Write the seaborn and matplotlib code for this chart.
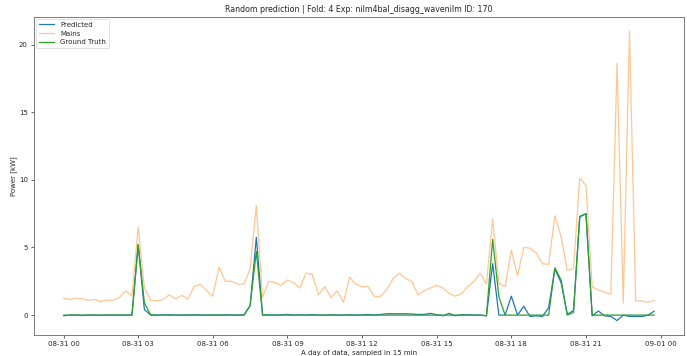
import numpy as np
import pandas as pd
import matplotlib
matplotlib.use("Agg")
import matplotlib.pyplot as plt
import matplotlib.dates as mdates
import seaborn as sns

title = "Random prediction | Fold: 4 Exp: nilm4bal_disagg_wavenilm ID: 170"
start = "2020-08-31 00:00"
n_points = 96

predicted = [
    -0.05, 0.0, 0.02, -0.03, 0.0, 0.01, -0.02, 0.0, 0.01, 0.0, 0.0, 0.0,
    5.2, 0.4, 0.02, 0.0, 0.01, 0.02, 0.0, 0.0, 0.01, 0.02, 0.0, 0.0,
    0.01, 0.0, 0.02, 0.0, 0.01, 0.0, 0.7, 5.75, 0.0, 0.02, 0.0, 0.03,
    0.05, 0.0, 0.02, 0.0, 0.03, 0.0, 0.0, 0.02, 0.0, 0.0, 0.03, 0.0,
    0.02, 0.05, 0.0, 0.05, 0.1, 0.1, 0.1, 0.1, 0.08, 0.05, 0.05, 0.13,
    0.03, -0.05, 0.13, -0.05, 0.03, 0.02, 0.0, 0.0, -0.05, 3.8, 0.0, 0.0,
    1.4, 0.0, 0.65, -0.1, -0.05, -0.1, 0.55, 3.4, 2.4, 0.05, 0.35, 7.25,
    7.5, -0.05, 0.3, -0.05, -0.1, -0.4, 0.0, -0.1, -0.1, -0.1, 0.0, 0.3,
]

mains = [
    1.25, 1.15, 1.25, 1.2, 1.1, 1.15, 1.0, 1.1, 1.1, 1.3, 1.8, 1.4,
    6.5, 2.0, 1.1, 1.05, 1.15, 1.5, 1.2, 1.45, 1.2, 2.1, 2.3, 1.8,
    1.4, 3.55, 2.5, 2.5, 2.3, 2.3, 3.4, 8.1, 1.3, 2.5, 2.4, 2.2,
    2.6, 2.4, 2.0, 3.1, 3.0, 1.5, 2.1, 1.3, 1.8, 0.95, 2.8, 2.3,
    2.1, 2.1, 1.35, 1.4, 1.9, 2.7, 3.1, 2.7, 2.5, 1.5, 1.8, 2.0,
    2.2, 2.0, 1.6, 1.4, 1.6, 2.1, 2.5, 3.1, 2.3, 7.1, 2.35, 2.1,
    4.8, 2.9, 5.0, 4.95, 4.6, 3.8, 3.75, 7.35, 5.8, 3.3, 3.45, 10.1,
    9.6, 2.1, 1.85, 1.7, 1.55, 18.6, 0.9, 21.0, 1.05, 1.05, 0.95, 1.1,
]

ground_truth = [
    0.0, 0.0, 0.0, 0.0, 0.0, 0.0, 0.0, 0.0, 0.0, 0.0, 0.0, 0.0,
    5.2, 0.9, 0.0, 0.0, 0.0, 0.0, 0.0, 0.0, 0.0, 0.0, 0.0, 0.0,
    0.0, 0.0, 0.0, 0.0, 0.0, 0.0, 0.7, 4.7, 0.0, 0.0, 0.0, 0.0,
    0.0, 0.0, 0.0, 0.0, 0.0, 0.0, 0.0, 0.0, 0.0, 0.0, 0.0, 0.0,
    0.0, 0.0, 0.0, 0.0, 0.0, 0.0, 0.0, 0.0, 0.0, 0.0, 0.0, 0.0,
    0.0, 0.0, 0.0, 0.0, 0.0, 0.0, 0.0, 0.0, -0.05, 5.6, 1.35, 0.0,
    0.0, 0.0, 0.0, 0.0, 0.0, 0.0, 0.0, 3.5, 2.6, 0.0, 0.2, 7.3,
    7.5, 0.0, 0.0, 0.0, 0.0, 0.0, 0.0, 0.0, 0.0, 0.0, 0.0, 0.0,
]

times = pd.date_range(start, periods=n_points, freq="15min")
df = pd.DataFrame({"time": times, "Predicted": predicted,
                   "Mains": mains, "Ground Truth": ground_truth})

sns.set_style("ticks")
plt.rcParams["font.family"] = ["DejaVu Sans"]

fig = plt.figure(figsize=(6.87, 3.56), dpi=100)
ax = fig.add_axes([0.0495, 0.059, 0.946, 0.8945])

sns.lineplot(data=df, x="time", y="Predicted", ax=ax, color="#1f77b4",
             linewidth=0.9, label="Predicted")
sns.lineplot(data=df, x="time", y="Mains", ax=ax, color="#ff7f0e",
             alpha=0.45, linewidth=0.9, label="Mains")
sns.lineplot(data=df, x="time", y="Ground Truth", ax=ax, color="#2ca02c",
             linewidth=0.9, label="Ground Truth")

ax.xaxis.set_major_locator(mdates.HourLocator(byhour=range(0, 24, 3)))
ax.xaxis.set_major_formatter(mdates.DateFormatter("%m-%d %H"))
ax.margins(x=0.05, y=0.05)

ax.set_title(title, fontsize=5.7, pad=3)
ax.set_xlabel("A day of data, sampled in 15 min", fontsize=5, labelpad=2)
ax.set_ylabel("Power [kW]", fontsize=5, labelpad=1)
ax.tick_params(labelsize=5, length=2.5, width=0.5, pad=2)
for s in ax.spines.values():
    s.set_linewidth(0.6)
    s.set_color("#666666")

leg = ax.legend(loc="upper left", fontsize=5, frameon=True, handlelength=2.2,
                borderpad=0.45, labelspacing=0.4, borderaxespad=0.3)
leg.get_frame().set_linewidth(0.5)

fig.savefig("out.png", dpi=100)
